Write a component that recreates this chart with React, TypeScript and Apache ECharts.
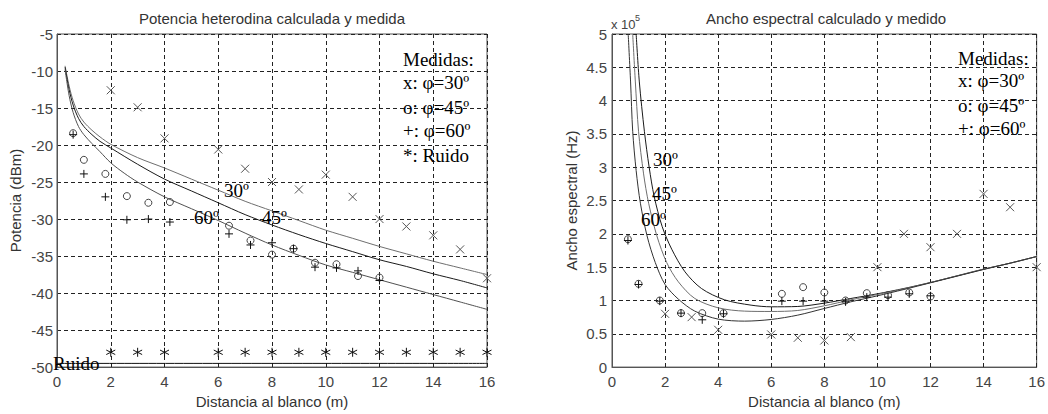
import React, { useEffect, useRef } from "react";
import * as echarts from "echarts";

// ---------- Left chart: Potencia heterodina (dBm) ----------
const powCalc30 = [[0.3,-9.3],[0.45,-12],[0.6,-14],[0.8,-15.8],[1,-16.9],[1.3,-18],[1.6,-18.9],[2,-19.9],[3,-21.7],[4,-23.1],[5,-24.6],[6,-26.1],[7,-27.6],[8,-28.9],[9,-30.2],[10,-31.5],[11,-32.6],[12,-33.7],[13,-34.7],[14,-35.7],[15,-36.6],[16,-37.5]];
const powCalc45 = [[0.3,-9.5],[0.45,-12.5],[0.6,-14.6],[0.8,-16.4],[1,-17.5],[1.3,-18.6],[1.6,-19.5],[2,-20.4],[3,-22.6],[4,-24.6],[5,-26.2],[6,-27.8],[7,-29.4],[8,-30.8],[9,-32.1],[10,-33.3],[11,-34.4],[12,-35.5],[13,-36.4],[14,-37.4],[15,-38.3],[16,-39.3]];
const powCalc60 = [[0.3,-9.8],[0.45,-13.3],[0.6,-15.6],[0.8,-17.5],[1,-18.6],[1.3,-19.8],[1.6,-20.9],[2,-22.4],[2.5,-23.8],[3,-25],[4,-27],[5,-28.6],[6,-30.2],[7,-31.9],[8,-33.5],[9,-34.9],[10,-36.2],[11,-37.2],[12,-38.2],[13,-39.2],[14,-40.2],[15,-41.2],[16,-42.2]];
const powNoiseLine = [[0,-49.5],[16,-49.5]];
const powMeas30 = [[2,-12.6],[3,-14.9],[4,-19.1],[6,-20.6],[7,-23.2],[8,-25],[9,-26],[10,-24],[11,-27],[12,-30],[13,-31],[14,-32.2],[15,-34.1],[16,-38]];
const powMeas45 = [[0.6,-18.4],[1,-22],[1.8,-23.9],[2.6,-26.9],[3.4,-27.8],[4.2,-27.7],[6.4,-30.9],[7.2,-32.9],[8,-34.8],[8.8,-34],[9.6,-35.9],[10.4,-36.1],[11.2,-37.7],[12,-37.9]];
const powMeas60 = [[0.6,-18.6],[1,-23.9],[1.8,-27],[2.6,-30.1],[3.4,-30],[4.2,-30.4],[6.4,-32],[7.2,-33.5],[8,-33.2],[8.8,-34],[9.6,-36.5],[10.4,-36.6],[11.2,-37],[12,-38.3]];
const powNoise = [[2,-48],[3,-48],[4,-48],[6,-48],[7,-48],[8,-48],[9,-48],[10,-48],[11,-48],[12,-48],[13,-48],[14,-48],[15,-48],[16,-48]];

// ---------- Right chart: Ancho espectral (x 1e5 Hz) ----------
const bwCalc30 = [[0.91,5],[1.03,4.28],[1.22,3.54],[1.4,3.0],[1.59,2.56],[1.89,2.11],[2.25,1.77],[2.75,1.43],[3.37,1.18],[4.24,1.01],[5.24,0.93],[6,0.905],[7,0.91],[8,0.96],[9,1.03],[10,1.1],[11,1.18],[12,1.27],[13,1.37],[14,1.47],[15,1.56],[16,1.66]];
const bwCalc45 = [[0.78,5],[0.88,4.28],[1.0,3.54],[1.19,2.9],[1.38,2.46],[1.69,1.97],[2.06,1.57],[2.5,1.28],[3.12,1.03],[4,0.89],[5,0.84],[6,0.835],[7,0.85],[8,0.92],[9,1.01],[10,1.09],[11,1.175],[12,1.27],[13,1.37],[14,1.47],[15,1.56],[16,1.66]];
const bwCalc60 = [[0.61,5],[0.7,4.28],[0.78,3.54],[0.91,2.95],[1.07,2.46],[1.32,1.97],[1.63,1.57],[2,1.24],[2.5,1.02],[3.12,0.84],[4,0.72],[5,0.69],[6,0.715],[7,0.78],[8,0.88],[9,0.98],[10,1.07],[11,1.165],[12,1.265],[13,1.365],[14,1.465],[15,1.56],[16,1.66]];
const bwMeas30 = [[2,0.8],[3,0.75],[4,0.56],[6,0.49],[7,0.44],[8,0.4],[9,0.45],[10,1.5],[11,2.0],[12,1.8],[13,2.0],[14,2.6],[15,2.4],[16,1.5]];
const bwMeas45 = [[0.6,1.92],[1,1.25],[1.8,1.0],[2.6,0.81],[3.4,0.81],[4.2,0.81],[6.4,1.1],[7.2,1.2],[8,1.12],[8.8,1.0],[9.6,1.11],[10.4,1.08],[11.2,1.12],[12,1.06]];
const bwMeas60 = [[0.6,1.9],[1,1.24],[1.8,0.99],[2.6,0.81],[3.4,0.71],[4.2,0.8],[6.4,0.99],[7.2,0.99],[8,0.99],[8.8,0.98],[9.6,1.05],[10.4,1.05],[11.2,1.1],[12,1.07]];

const titles = ["Potencia heterodina calculada y medida", "Ancho espectral calculado y medido"];
const xName = "Distancia al blanco (m)";
const yNames = ["Potencia (dBm)", "Ancho espectral (Hz)"];
const legendLeft = ["Medidas:", "x: φ=30º", "o: φ=45º", "+: φ=60º", "*: Ruido"];
const legendRight = ["Medidas:", "x: φ=30º", "o: φ=45º", "+: φ=60º"];
const curveLabels = ["30º", "45º", "60º"];

const SANS = '"Liberation Sans", Arial, Helvetica, sans-serif';
const SERIF = '"Liberation Serif", "Times New Roman", serif';

const SYM_X = "path://M0,0L10,10M10,0L0,10";
const SYM_PLUS = "path://M5,0L5,10M0,5L10,5";
const SYM_STAR = "path://M5,0L5,10M0.67,2.5L9.33,7.5M0.67,7.5L9.33,2.5";

function txt(text: string, x: number, y: number, font: string, size: number, align = "left", fill = "#000") {
  return {
    type: "text",
    x,
    y,
    z: 100,
    style: {
      text,
      fontFamily: font,
      fontSize: size,
      fill,
      align,
      textAlign: align,
      verticalAlign: "middle",
      textVerticalAlign: "middle",
    },
  };
}

function lineS(data: number[][], idx: number, color: string) {
  return {
    type: "line",
    xAxisIndex: idx,
    yAxisIndex: idx,
    data,
    showSymbol: false,
    symbol: "none",
    smooth: 0.3,
    lineStyle: { color, width: 1 },
    silent: true,
    z: 3,
  };
}

function scatterS(data: number[][], idx: number, symbol: string, size: number, color: string) {
  return {
    type: "scatter",
    xAxisIndex: idx,
    yAxisIndex: idx,
    data,
    symbol,
    symbolSize: size,
    itemStyle: { color: "transparent", borderColor: color, borderWidth: 1, opacity: 1 },
    silent: true,
    z: 5,
  };
}

const axisCommon = {
  axisLine: { show: true, onZero: false, lineStyle: { color: "#555", width: 1 } },
  axisTick: { show: false },
  splitLine: { show: true, lineStyle: { color: "#222", width: 1, type: [4, 3] } },
};

export default function App() {
  const ref = useRef<HTMLDivElement>(null);
  useEffect(() => {
    if (!ref.current) return;
    const chart = echarts.init(ref.current, null, { renderer: "svg" });
    const grids = [
      { left: 57, top: 34, width: 430, height: 340 },
      { left: 612, top: 34, width: 428, height: 339 },
    ];
    const option: any = {
      animation: false,
      backgroundColor: "#fff",
      grid: grids.map((g) => ({ ...g, show: true, borderColor: "#555", borderWidth: 1, backgroundColor: "transparent" })),
      xAxis: [0, 1].map((i) => ({
        type: "value",
        gridIndex: i,
        min: 0,
        max: 16,
        interval: 2,
        name: xName,
        nameLocation: "middle",
        nameGap: 25,
        nameTextStyle: { fontFamily: SANS, fontSize: 15, color: "#333" },
        axisLabel: { fontFamily: SANS, fontSize: 15, color: "#444", margin: 7 },
        ...axisCommon,
      })),
      yAxis: [
        {
          type: "value",
          gridIndex: 0,
          min: -50,
          max: -5,
          interval: 5,
          name: yNames[0],
          nameLocation: "middle",
          nameGap: 34,
          nameTextStyle: { fontFamily: SANS, fontSize: 15, color: "#333" },
          axisLabel: { fontFamily: SANS, fontSize: 15, color: "#444", margin: 4 },
          ...axisCommon,
        },
        {
          type: "value",
          gridIndex: 1,
          min: 0,
          max: 5,
          interval: 0.5,
          name: yNames[1],
          nameLocation: "middle",
          nameGap: 33,
          nameTextStyle: { fontFamily: SANS, fontSize: 15, color: "#333" },
          axisLabel: { fontFamily: SANS, fontSize: 15, color: "#444", margin: 5 },
          ...axisCommon,
        },
      ],
      series: [
        lineS(powCalc30, 0, "#6e6e6e"),
        lineS(powCalc45, 0, "#1a1a1a"),
        lineS(powCalc60, 0, "#505050"),
        lineS(powNoiseLine, 0, "#111"),
        scatterS(powMeas30, 0, SYM_X, 8, "#555"),
        scatterS(powMeas45, 0, "circle", 7, "#444"),
        scatterS(powMeas60, 0, SYM_PLUS, 8, "#111"),
        scatterS(powNoise, 0, SYM_STAR, 9, "#111"),
        lineS(bwCalc30, 1, "#1a1a1a"),
        lineS(bwCalc45, 1, "#6e6e6e"),
        lineS(bwCalc60, 1, "#333"),
        scatterS(bwMeas30, 1, SYM_X, 8, "#555"),
        scatterS(bwMeas45, 1, "circle", 7, "#444"),
        scatterS(bwMeas60, 1, SYM_PLUS, 8, "#111"),
      ],
      graphic: [
        txt(titles[0], 272, 18, SANS, 15, "center", "#333"),
        txt(titles[1], 826, 18, SANS, 15, "center", "#333"),
        txt("x 10", 611, 24, SANS, 13, "left", "#444"),
        txt("5", 635, 18, SANS, 9, "left", "#444"),
        // left legend
        ...legendLeft.map((t, i) => txt(t, 403, [59, 82, 107, 130, 155][i], SERIF, 19)),
        // right legend
        ...legendRight.map((t, i) => txt(t, 958, [58, 80, 105, 128][i], SERIF, 19)),
        // left curve labels
        txt(curveLabels[0], 224, 190, SERIF, 19),
        txt(curveLabels[1], 262, 217, SERIF, 19),
        txt(curveLabels[2], 194, 217, SERIF, 19),
        txt("Ruido", 53, 363, SERIF, 19),
        // right curve labels
        txt(curveLabels[0], 653, 159, SERIF, 19),
        txt(curveLabels[1], 652, 193, SERIF, 19),
        txt(curveLabels[2], 641, 219, SERIF, 19),
      ],
    };
    chart.setOption(option);
    return () => chart.dispose();
  }, []);
  return (
    <div
      ref={ref}
      style={{ position: "fixed", left: 0, top: 0, width: 1048, height: 414, background: "#fff" }}
    />
  );
}
